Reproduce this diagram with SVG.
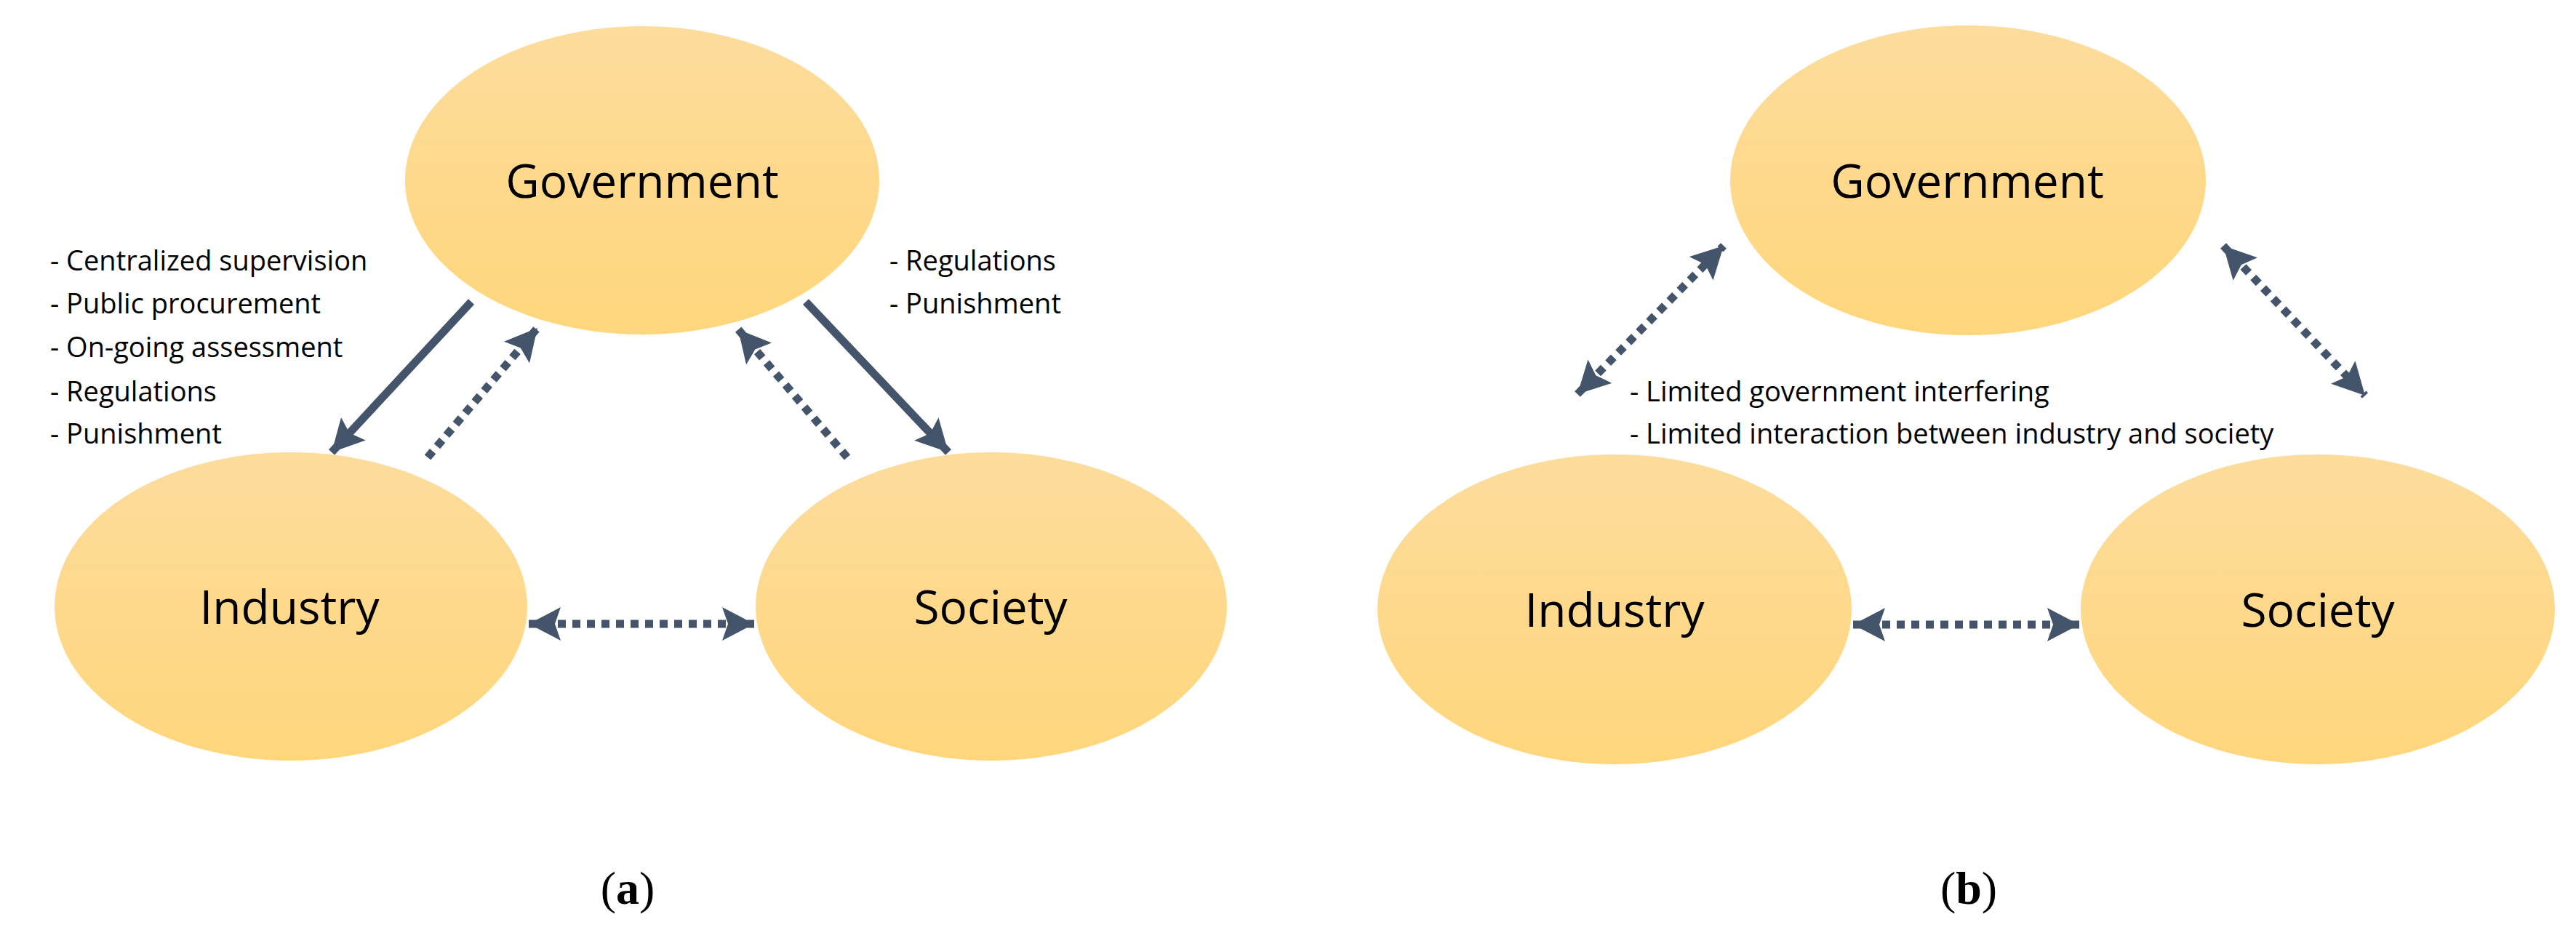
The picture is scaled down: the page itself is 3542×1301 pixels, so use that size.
<svg xmlns="http://www.w3.org/2000/svg" width="3542" height="1301" viewBox="0 0 3542 1301">
<style>
.node{fill:url(#g)}
.nt{font-family:"Open Sans","Liberation Sans",sans-serif;font-size:64px;fill:#000;text-anchor:middle}
.lb{font-family:"Open Sans","Liberation Sans",sans-serif;font-size:38px;fill:#000}
.cap{font-family:"Liberation Serif",serif;font-size:64px;fill:#000;text-anchor:middle}
.solid{stroke:#44546A;stroke-width:11;fill:none}
.dot{stroke:#44546A;stroke-width:11;fill:none;stroke-dasharray:11 9}
</style>
<defs>
<linearGradient id="g" x1="0" y1="0" x2="0" y2="1">
<stop offset="0" stop-color="#FDDC9C"/>
<stop offset="1" stop-color="#FFD67C"/>
</linearGradient>
<marker id="ah" markerUnits="userSpaceOnUse" markerWidth="48" markerHeight="46" refX="44" refY="23" orient="auto-start-reverse">
<path d="M0,0 L44,23 L0,46 L8,23 Z" fill="#44546A"/>
</marker>
</defs>
<rect width="3542" height="1301" fill="#fff"/>
<g id="gov-a"><ellipse class="node" cx="883" cy="248" rx="326" ry="212"/><text class="nt" x="883" y="272">Government</text></g>
<g id="ind-a"><ellipse class="node" cx="400" cy="834" rx="325" ry="212"/><text class="nt" x="398" y="858">Industry</text></g>
<g id="soc-a"><ellipse class="node" cx="1363" cy="834" rx="324" ry="212"/><text class="nt" x="1362" y="858">Society</text></g>
<g id="gov-b"><ellipse class="node" cx="2706" cy="248" rx="327" ry="213"/><text class="nt" x="2705" y="272">Government</text></g>
<g id="ind-b"><ellipse class="node" cx="2220" cy="838" rx="326" ry="213"/><text class="nt" x="2220" y="862">Industry</text></g>
<g id="soc-b"><ellipse class="node" cx="3187" cy="838" rx="326" ry="213"/><text class="nt" x="3187" y="862">Society</text></g>
<g id="connectors">
<line class="solid" x1="648" y1="415" x2="456" y2="622" marker-end="url(#ah)"/>
<line class="dot" x1="588" y1="629" x2="739" y2="451" marker-end="url(#ah)"/>
<line class="dot" x1="1165" y1="629" x2="1015" y2="453" marker-end="url(#ah)"/>
<line class="solid" x1="1108" y1="415" x2="1304" y2="622" marker-end="url(#ah)"/>
<line class="dot" x1="727" y1="858" x2="1037" y2="858" marker-start="url(#ah)" marker-end="url(#ah)"/>
<line class="dot" x1="2169" y1="542" x2="2370" y2="338" marker-start="url(#ah)" marker-end="url(#ah)"/>
<line class="dot" x1="3057" y1="338" x2="3252" y2="544" marker-start="url(#ah)" marker-end="url(#ah)"/>
<line class="dot" x1="2548" y1="859" x2="2859" y2="859" marker-start="url(#ah)" marker-end="url(#ah)"/>
</g>
<g id="labels">
<text class="lb" x="69" y="372">- Centralized supervision</text>
<text class="lb" x="69" y="431">- Public procurement</text>
<text class="lb" x="69" y="491">- On-going assessment</text>
<text class="lb" x="69" y="552">- Regulations</text>
<text class="lb" x="69" y="610">- Punishment</text>
<text class="lb" x="1223" y="372">- Regulations</text>
<text class="lb" x="1223" y="431">- Punishment</text>
<text class="lb" x="2241" y="552">- Limited government interfering</text>
<text class="lb" x="2241" y="610">- Limited interaction between industry and society</text>
<text class="cap" x="863" y="1243">(<tspan font-weight="bold">a</tspan>)</text>
<text class="cap" x="2707" y="1243">(<tspan font-weight="bold">b</tspan>)</text>
</g>
</svg>
